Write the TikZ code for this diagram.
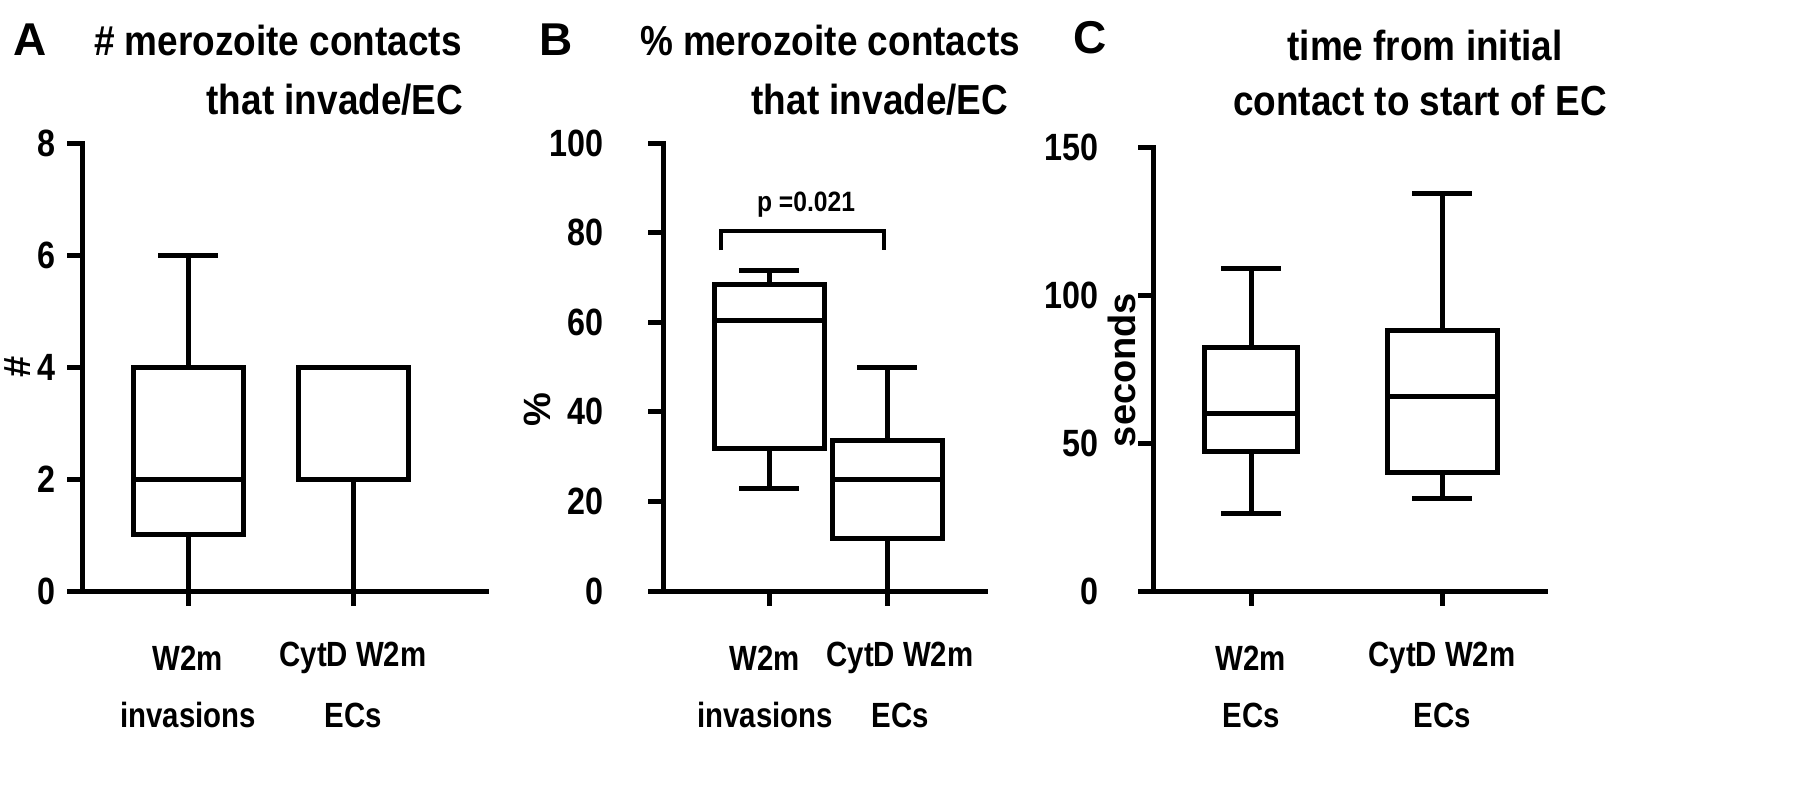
\documentclass[tikz,border=0pt]{standalone}
\usepackage{fontspec}
\setmainfont{Liberation Sans}
\begin{document}
\begin{tikzpicture}[x=1pt,y=-1pt,line width=5pt,
 ttl/.style={font=\fontsize{42}{46}\selectfont\bfseries,xscale=0.88},
 lab/.style={font=\fontsize{46}{50}\selectfont\bfseries},
 tk/.style={font=\fontsize{38}{42}\selectfont\bfseries,anchor=east,xscale=0.85},
 xl/.style={font=\fontsize{35}{38}\selectfont\bfseries,xscale=0.84},
 yl/.style={font=\fontsize{38}{42}\selectfont\bfseries,rotate=90},
 ax/.style={line width=5pt,line cap=rect}]
\useasboundingbox (0,0) rectangle (1802,800);
% ---------- A
\node[lab] (LA) at (30,40) {A};
\node[ttl] (tA1) at (278,40) {\# merozoite contacts};
\node[ttl] (tA2) at (335,100) {that invade/EC};
\draw[ax] (82,143) -- (82,591) -- (486,591);
\foreach \v/\y in {0/591,2/479,4/367,6/255,8/143}{
 \draw (67,\y) -- (82,\y); \node[tk] at (60,\y) {\v};}
\draw (188,591) -- (188,606); \draw (353,591) -- (353,606);
\node[yl] (yA) at (18,367) {\#};
\draw (133,367) rectangle (243,534); \draw (133,479) -- (243,479);
\draw (188,534) -- (188,591); \draw (188,367) -- (188,255); \draw (158,255) -- (218,255);
\draw (298,367) rectangle (408,479);
\draw (353,479) -- (353,591);
\node[xl] at (188,658) {W2m}; \node[xl] at (188,715) {invasions};
\node[xl] at (353,658) {CytD W2m}; \node[xl] at (353,715) {ECs};
% ---------- B
\node[lab] (LB) at (556,40) {B};
\node[ttl] (tB1) at (830,40) {\% merozoite contacts};
\node[ttl] (tB2) at (880,100) {that invade/EC};
\draw[ax] (663,143) -- (663,591) -- (985,591);
\foreach \v/\y in {0/591,20/501.4,40/411.8,60/322.2,80/232.6,100/143}{
 \draw (648,\y) -- (663,\y); \node[tk] at (608,\y) {\v};}
\draw (769,591) -- (769,606); \draw (887,591) -- (887,606);
\node[yl] (yB) at (537,410) {\%};
\draw (714,284) rectangle (824,448); \draw (714,320) -- (824,320);
\draw (769,448) -- (769,488); \draw (739,488) -- (799,488);
\draw (769,284) -- (769,270); \draw (739,270) -- (799,270);
\draw (832,440) rectangle (942,538); \draw (832,479) -- (942,479);
\draw (887,440) -- (887,367); \draw (857,367) -- (917,367);
\draw (887,538) -- (887,591);
\draw[line width=4pt] (721,250) -- (721,231) -- (884,231) -- (884,250);
\node[font=\fontsize{28}{32}\selectfont\bfseries,xscale=0.88] (p) at (806,205) {p =0.021};
\node[xl] at (765,658) {W2m}; \node[xl] at (765,715) {invasions};
\node[xl] at (900,658) {CytD W2m}; \node[xl] at (900,715) {ECs};
% ---------- C
\node[lab] (LC) at (1090,38) {C};
\node[ttl] (tC1) at (1425,45) {time from initial};
\node[ttl] (tC2) at (1420,100) {contact to start of EC};
\draw[ax] (1153,147) -- (1153,591) -- (1545,591);
\foreach \v/\y in {0/591,50/443,100/295,150/147}{
 \draw (1138,\y) -- (1153,\y); \node[tk] at (1103,\y) {\v};}
\draw (1251,591) -- (1251,606); \draw (1442,591) -- (1442,606);
\node[yl] (yC) at (1122,370) {seconds};
\draw (1204,347) rectangle (1297,451); \draw (1204,413) -- (1297,413);
\draw (1251,451) -- (1251,513); \draw (1221,513) -- (1281,513);
\draw (1251,347) -- (1251,268); \draw (1221,268) -- (1281,268);
\draw (1387,330) rectangle (1497,472); \draw (1387,396) -- (1497,396);
\draw (1442,472) -- (1442,498); \draw (1412,498) -- (1472,498);
\draw (1442,330) -- (1442,193); \draw (1412,193) -- (1472,193);
\node[xl] at (1251,658) {W2m}; \node[xl] at (1251,715) {ECs};
\node[xl] at (1442,658) {CytD W2m}; \node[xl] at (1442,715) {ECs};
\end{tikzpicture}
\end{document}
